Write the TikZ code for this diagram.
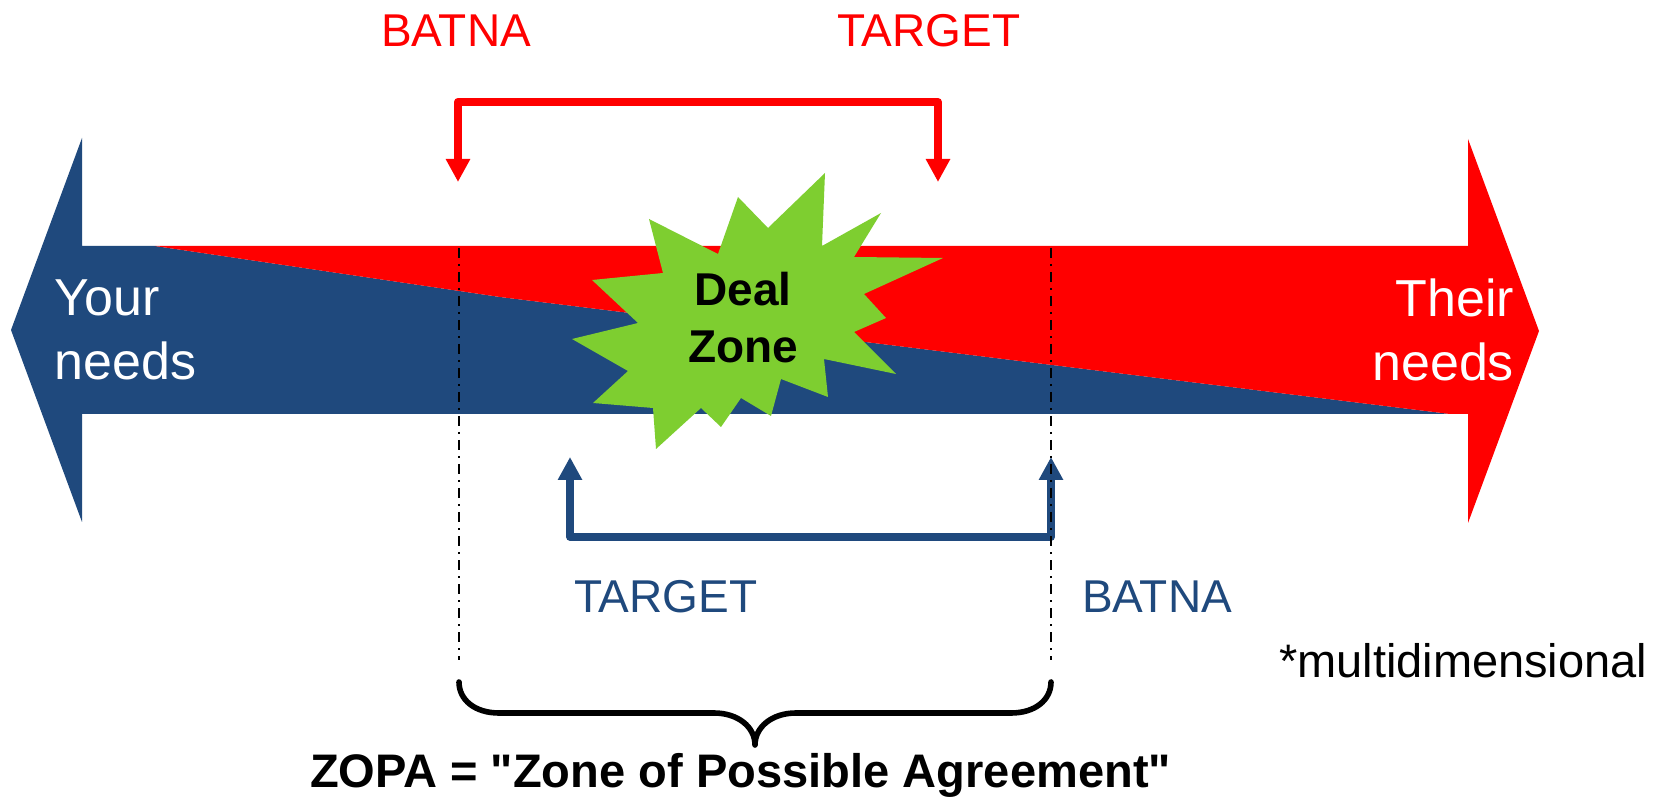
\documentclass[tikz,border=0pt]{standalone}
\usepackage{fontspec}
\setmainfont{Liberation Sans}
\newfontfamily\plainsans{Liberation Sans}
\usetikzlibrary{arrows.meta}
\definecolor{navy}{HTML}{1F497D}
\definecolor{brightred}{HTML}{FF0000}
\definecolor{burst}{HTML}{7ECE30}
\begin{document}
\begin{tikzpicture}[x=0.75pt,y=-0.75pt,
  lbl/.style={inner sep=0pt, outer sep=0pt},
  redlbl/.style={lbl, text=brightred, font=\fontsize{34.5pt}{40pt}\selectfont},
  bluelbl/.style={lbl, text=navy, font=\fontsize{34.5pt}{40pt}\selectfont},
  needslbl/.style={lbl, text=white, font=\fontsize{39pt}{46pt}\selectfont},
  dealzone/.style={lbl, text=black, font=\fontsize{34.5pt}{42pt}\selectfont\bfseries},
  notelbl/.style={lbl, text=black, font=\fontsize{35.25pt}{40pt}\selectfont},
  zopalbl/.style={lbl, text=black, font=\plainsans\fontsize{35.3pt}{40pt}\selectfont\bfseries},
  bracketarrow/.style={{Triangle[width=17.25pt,length=17.25pt]}-{Triangle[width=17.25pt,length=17.25pt]}},
  redbracket/.style={draw=brightred, line width=6.2pt, line join=round, bracketarrow},
  bluebracket/.style={draw=navy, line width=5.5pt, line join=round, bracketarrow},
  zopaline/.style={draw=black, line width=1.5pt, dash pattern=on 7.5pt off 4.5pt on 1.5pt off 4.5pt},
  bracestyle/.style={draw=black, line width=4.2pt, line cap=round, line join=round}]
\useasboundingbox (0,0) rectangle (1668,798);
\fill[white] (0,0) rectangle (1668,798);

% double arrow body
\fill[navy] (11,330) -- (82,138) -- (82,246) -- (155,246) -- (500,297) -- (1450,414)
  -- (82,414) -- (82,522) -- cycle;
\fill[brightred] (155,246) -- (1468,246) -- (1468,139) -- (1539,331) -- (1468,523)
  -- (1468,414) -- (1450,414) -- (500,297) -- cycle;

% deal zone starburst
\fill[burst] (825,173) -- (822,246) -- (881,213) -- (854,257) -- (943,258) -- (864,294)
  -- (886,318) -- (854,332) -- (896,374) -- (824,359) -- (828,397) -- (781,379)
  -- (771,416) -- (741,398) -- (721,427) -- (701,408) -- (656,449) -- (653,408)
  -- (593,403) -- (628,371) -- (572,339) -- (638,323) -- (592,280) -- (663,273)
  -- (649,219) -- (718,254) -- (738,197) -- (768,228) -- cycle;

% red bracket
\coordinate (rL) at (458,182);
\coordinate (rR) at (938,182);
\coordinate (rTop) at (0,102);
\draw[redbracket] (rL) -- (rL |- rTop) -- (rR |- rTop) -- (rR);

% blue bracket
\coordinate (bL) at (570,457);
\coordinate (bR) at (1051,457);
\coordinate (bBot) at (0,537);
\draw[bluebracket] (bL) -- (bL |- bBot) -- (bR |- bBot) -- (bR);

% ZOPA limits
\coordinate (zl1) at (459,248);
\coordinate (zl2) at (459,660);
\coordinate (zr1) at (1051,248);
\coordinate (zr2) at (1051,660);
\draw[zopaline] (zl1) -- (zl2);
\draw[zopaline] (zr1) -- (zr2);

% brace
\coordinate (brL) at (459,682);
\coordinate (brR) at (1051,682);
\coordinate (brTip) at (755,745);
\draw[bracestyle] (brL) .. controls (459,700) and (475,713) .. (499,713) -- (714,713)
  .. controls (738,713) and (755,727) .. (brTip)
  .. controls (755,727) and (772,713) .. (796,713) -- (1011,713)
  .. controls (1035,713) and (1051,700) .. (brR);

% labels
\node[redlbl, anchor=base west] (rbatna) at (381,47) {BATNA};
\node[redlbl, anchor=base west] (rtarget) at (837,47) {TARGET};
\node[bluelbl, anchor=base west] (btarget) at (574,612) {TARGET};
\node[bluelbl, anchor=base west] (bbatna) at (1082,612) {BATNA};
\node[needslbl, anchor=base west] (your1) at (55,316) {Your};
\node[needslbl, anchor=base west] (your2) at (55,380) {needs};
\node[needslbl, anchor=base east] (their1) at (1514,317) {Their};
\node[needslbl, anchor=base east] (their2) at (1514,381) {needs};
\node[dealzone, anchor=base] (deal) at (743,306) {Deal};
\node[dealzone, anchor=base] (zone) at (743,363) {Zone};
\node[notelbl, anchor=base west] (multi) at (1279,677) {*multidimensional};
\node[zopalbl, anchor=base west] (zopa) at (310,787) {ZOPA = "Zone of Possible Agreement"};
\end{tikzpicture}
\end{document}
